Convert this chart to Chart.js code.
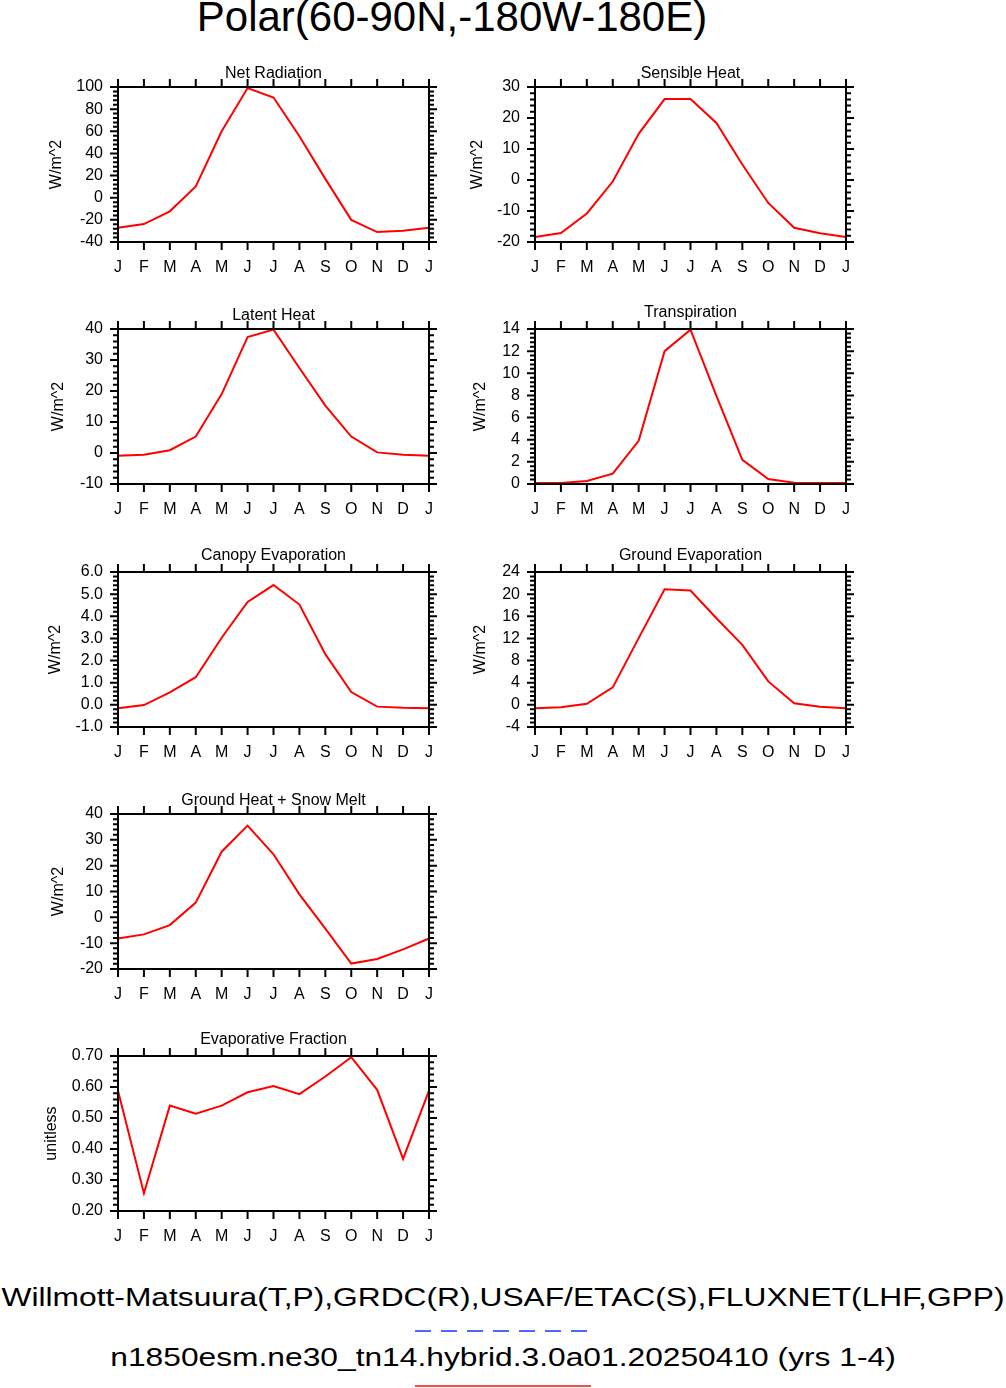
<!DOCTYPE html>
<html>
<head>
<meta charset="utf-8">
<script src="https://cdn.jsdelivr.net/npm/chart.js@4.4.1/dist/chart.umd.min.js"></script>
<style>
  body { margin: 0; background: #fff; width: 1006px; height: 1388px; position: relative; overflow: hidden;
         font-family: "Liberation Sans", Arial, sans-serif; }
  canvas { position: absolute; }
  .txt { position: absolute; left: 0; white-space: nowrap; text-align: center; line-height: 1; color: #000; }
  .foot { width: 1006px; font-size: 25px; transform: scaleX(1.27); transform-origin: 503px 50%; }
</style>
</head>
<body>
<div class="txt" style="width:904px; top:-4px; font-size:42px;">Polar(60-90N,-180W-180E)</div>
<div class="txt foot" style="top:1285px;">Willmott-Matsuura(T,P),GRDC(R),USAF/ETAC(S),FLUXNET(LHF,GPP)</div>
<div style="position:absolute; left:415px; top:1330px; width:176px; height:2px;
            background: repeating-linear-gradient(to right, rgb(80,100,255) 0 16px, transparent 16px 26px);"></div>
<div class="txt foot" style="top:1345px;">n1850esm.ne30_tn14.hybrid.3.0a01.20250410 (yrs 1-4)</div>
<div style="position:absolute; left:415px; top:1385px; width:176px; height:2px; background: rgb(240,80,80);"></div>

<script>
// month labels (January repeated at the end)
const months = ['J', 'F', 'M', 'A', 'M', 'J', 'J', 'A', 'S', 'O', 'N', 'D', 'J'];

// monthly values
const netRadiation = [-27.2, -23.8, -12.3, 10.2, 60, 99, 90.5, 55.5, 17, -20, -31, -29.8, -27.2];
const sensibleHeat = [-18.4, -17.1, -10.8, -0.5, 14.9, 26.1, 26.1, 18.4, 5, -7.4, -15.4, -17.2, -18.4];
const latentHeat = [-0.9, -0.55, 0.9, 5.3, 19, 37.4, 39.8, 27.4, 15.3, 5.3, 0.2, -0.55, -0.9];
const transpiration = [0.1, 0.1, 0.27, 0.93, 3.9, 12.0, 13.94, 7.95, 2.19, 0.45, 0.12, 0.09, 0.1];
const canopyEvap = [-0.15, -0.01, 0.56, 1.25, 3.03, 4.65, 5.41, 4.53, 2.29, 0.58, -0.08, -0.13, -0.15];
const groundEvap = [-0.63, -0.45, 0.2, 3.15, 12.05, 20.9, 20.64, 15.65, 10.84, 4.23, 0.27, -0.33, -0.63];
const groundHeat = [-8.2, -6.6, -3.0, 5.7, 25.4, 35.5, 24.4, 8.9, -4.4, -17.9, -16.1, -12.4, -8.2];
const evapFraction = [0.588, 0.257, 0.54, 0.514, 0.54, 0.583, 0.603, 0.577, 0.634, 0.696, 0.591, 0.368, 0.588];

// panel setup: y range, step, decimals of tick labels
const panels = [
  { title: 'Net Radiation', data: netRadiation, min: -40, max: 100, step: 20, dec: 0, col: 0, row: 0, gap: 9, ytitle: 'W/m^2', ydist: 61 },
  { title: 'Sensible Heat', data: sensibleHeat, min: -20, max: 30, step: 10, dec: 0, col: 1, row: 0, gap: 9, ytitle: 'W/m^2', ydist: 57.5 },
  { title: 'Latent Heat', data: latentHeat, min: -10, max: 40, step: 10, dec: 0, col: 0, row: 1, gap: 9, ytitle: 'W/m^2', ydist: 59 },
  { title: 'Transpiration', data: transpiration, min: 0, max: 14, step: 2, dec: 0, col: 1, row: 1, gap: 12, ytitle: 'W/m^2', ydist: 54.5 },
  { title: 'Canopy Evaporation', data: canopyEvap, min: -1, max: 6, step: 1, dec: 1, col: 0, row: 2, gap: 12, ytitle: 'W/m^2', ydist: 62 },
  { title: 'Ground Evaporation', data: groundEvap, min: -4, max: 24, step: 4, dec: 0, col: 1, row: 2, gap: 12.5, ytitle: 'W/m^2', ydist: 54.5 },
  { title: 'Ground Heat + Snow Melt', data: groundHeat, min: -20, max: 40, step: 10, dec: 0, col: 0, row: 3, gap: 9, ytitle: 'W/m^2', ydist: 59 },
  { title: 'Evaporative Fraction', data: evapFraction, min: 0.2, max: 0.7, step: 0.1, dec: 2, col: 0, row: 4, gap: 12, ytitle: 'unitless', ydist: 66 }
];

const colLeft = [118, 535];
const rowTop = [87, 329, 572, 814, 1056];
const plotW = 311, plotH = 155;
const padL = 90, padT = 30, padR = 22, padB = 40;

Chart.defaults.font.family = '"Liberation Sans", Arial, sans-serif';
Chart.defaults.color = '#000';

// frame, tick marks on all four sides and the panel title
const frameTicks = {
  id: 'frameTicks',
  afterDraw(chart, args, opts) {
    const ctx = chart.ctx;
    const a = chart.chartArea;
    const x = chart.scales.x, y = chart.scales.y;
    ctx.save();
    ctx.strokeStyle = '#000';
    ctx.lineWidth = 2;
    ctx.strokeRect(a.left, a.top, a.right - a.left, a.bottom - a.top);

    ctx.beginPath();
    for (let i = 0; i < x.ticks.length; i++) {
      const px = x.getPixelForTick(i);
      ctx.moveTo(px, a.top); ctx.lineTo(px, a.top - 8);
      ctx.moveTo(px, a.bottom); ctx.lineTo(px, a.bottom + 8);
    }
    // 4 minor ticks between each pair of major ticks
    const n = Math.round((y.max - y.min) / opts.step * 5);
    for (let k = 0; k <= n; k++) {
      const py = y.getPixelForValue(y.min + k * opts.step / 5);
      const len = k % 5 === 0 ? 8 : 5;
      ctx.moveTo(a.left, py); ctx.lineTo(a.left - len, py);
      ctx.moveTo(a.right, py); ctx.lineTo(a.right + len, py);
    }
    ctx.stroke();

    ctx.fillStyle = '#000';
    ctx.font = '16px "Liberation Sans", Arial, sans-serif';
    ctx.textAlign = 'center';
    ctx.textBaseline = 'alphabetic';
    ctx.fillText(opts.text, (a.left + a.right) / 2, a.top - opts.gap);
    ctx.restore();
  }
};

panels.forEach(function (p) {
  const canvas = document.createElement('canvas');
  canvas.width = padL + plotW + padR;
  canvas.height = padT + plotH + padB;
  canvas.style.left = (colLeft[p.col] - padL) + 'px';
  canvas.style.top = (rowTop[p.row] - padT) + 'px';
  document.body.appendChild(canvas);

  new Chart(canvas.getContext('2d'), {
    type: 'line',
    data: {
      labels: months,
      datasets: [{
        data: p.data,
        borderColor: '#ff0000',
        borderWidth: 2,
        pointRadius: 0,
        tension: 0,
        fill: false
      }]
    },
    plugins: [frameTicks],
    options: {
      responsive: false,
      animation: false,
      layout: { autoPadding: false, padding: { left: 0, top: padT, right: padR, bottom: 0 } },
      plugins: {
        legend: { display: false },
        tooltip: { enabled: false },
        frameTicks: { text: p.title, gap: p.gap, step: p.step }
      },
      scales: {
        x: {
          type: 'category',
          offset: false,
          grid: { display: false, drawTicks: false },
          border: { display: false },
          ticks: { autoSkip: false, maxRotation: 0, padding: 16, font: { size: 16 } },
          afterFit: function (s) { s.height = padB; }
        },
        y: {
          min: p.min,
          max: p.max,
          grid: { display: false, drawTicks: false },
          border: { display: false },
          ticks: {
            stepSize: p.step,
            autoSkip: false,
            maxTicksLimit: 20,
            padding: 15,
            font: { size: 16, lineHeight: 1 },
            callback: function (v) { return Number(v).toFixed(p.dec); }
          },
          title: {
            display: true,
            text: p.ytitle,
            font: { size: 16 },
            padding: { top: padL - p.ydist - 9.6, bottom: 0 }
          },
          afterFit: function (s) { s.width = padL; }
        }
      }
    }
  });
});
</script>
</body>
</html>
